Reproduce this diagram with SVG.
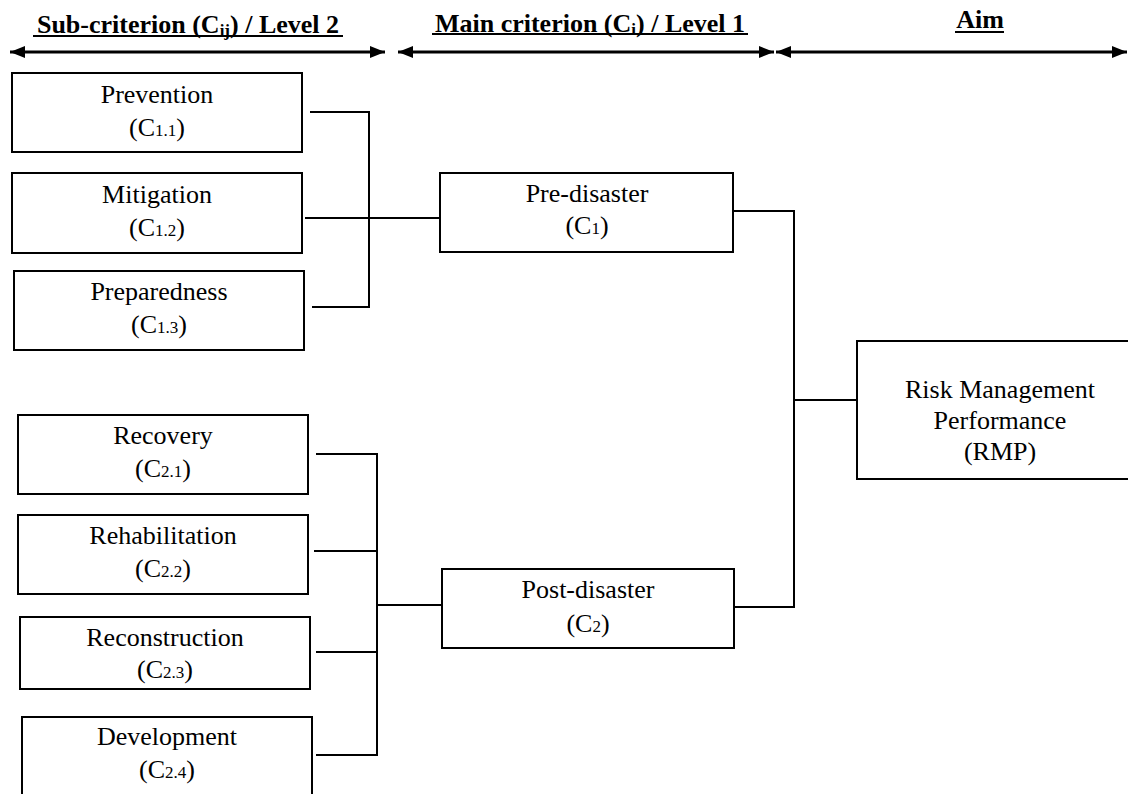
<svg xmlns="http://www.w3.org/2000/svg" width="1128" height="794" viewBox="0 0 1128 794">
<style>
text{fill:#000;}
.t{font-size:26px;text-anchor:middle;}
.h{font-size:26px;font-weight:bold;text-anchor:middle;}
.box{fill:#fff;stroke:#000;stroke-width:2;}
.c{fill:none;stroke:#000;stroke-width:2;}
.ax{stroke:#000;stroke-width:3;fill:none;}
.ul{fill:#000;}
</style>
<defs>
<marker id="ah" viewBox="0 0 15 12" refX="15" refY="6" markerWidth="15" markerHeight="12" markerUnits="userSpaceOnUse" orient="auto-start-reverse">
<path d="M0,0 L15,6 L0,12 Z" fill="#000"/>
</marker>
</defs>
<rect width="1128" height="794" fill="#fff"/>
<g font-family="Liberation Serif, DejaVu Serif, serif">
<g id="headers">
<text class="h" x="188" y="33">Sub-criterion (C<tspan font-size="17" dy="3">ij</tspan><tspan dy="-3">) / Level 2</tspan></text>
<rect class="ul" x="33" y="35" width="310" height="2"/>
<text class="h" x="590" y="32">Main criterion (C<tspan font-size="17" dy="3">i</tspan><tspan dy="-3">) / Level 1</tspan></text>
<rect class="ul" x="432" y="33" width="316" height="2"/>
<text class="h" x="980" y="28">Aim</text>
<rect class="ul" x="955" y="31" width="49" height="2"/>
<line class="ax" x1="10" y1="52" x2="385" y2="52" marker-start="url(#ah)" marker-end="url(#ah)"/>
<line class="ax" x1="398" y1="52" x2="774" y2="52" marker-start="url(#ah)" marker-end="url(#ah)"/>
<line class="ax" x1="776" y1="52" x2="1127" y2="52" marker-start="url(#ah)" marker-end="url(#ah)"/>
</g>

<g id="connectors">
<path class="c" d="M310,112 H369 V307 H312"/>
<path class="c" d="M305,218 H440"/>
<path class="c" d="M733,211 H794 V607 H734"/>
<path class="c" d="M794,400 H857"/>
<path class="c" d="M316,454 H377 V755 H316"/>
<path class="c" d="M314,551 H377"/>
<path class="c" d="M316,652 H377"/>
<path class="c" d="M377,605 H442"/>
</g>

<g id="n-prevention">
<rect class="box" x="12" y="73" width="290" height="79"/>
<text class="t" x="157" y="103">Prevention</text>
<text class="t" x="157" y="136">(C<tspan font-size="17">1.1</tspan>)</text>
</g>
<g id="n-mitigation">
<rect class="box" x="12" y="173" width="290" height="80"/>
<text class="t" x="157" y="203">Mitigation</text>
<text class="t" x="157" y="236">(C<tspan font-size="17">1.2</tspan>)</text>
</g>
<g id="n-preparedness">
<rect class="box" x="14" y="271" width="290" height="79"/>
<text class="t" x="159" y="300">Preparedness</text>
<text class="t" x="159" y="333">(C<tspan font-size="17">1.3</tspan>)</text>
</g>
<g id="n-recovery">
<rect class="box" x="18" y="415" width="290" height="79"/>
<text class="t" x="163" y="444">Recovery</text>
<text class="t" x="163" y="477">(C<tspan font-size="17">2.1</tspan>)</text>
</g>
<g id="n-rehabilitation">
<rect class="box" x="18" y="515" width="290" height="79"/>
<text class="t" x="163" y="544">Rehabilitation</text>
<text class="t" x="163" y="577">(C<tspan font-size="17">2.2</tspan>)</text>
</g>
<g id="n-reconstruction">
<rect class="box" x="20" y="617" width="290" height="72"/>
<text class="t" x="165" y="646">Reconstruction</text>
<text class="t" x="165" y="678">(C<tspan font-size="17">2.3</tspan>)</text>
</g>
<g id="n-development">
<rect class="box" x="22" y="717" width="290" height="90"/>
<text class="t" x="167" y="745">Development</text>
<text class="t" x="167" y="778">(C<tspan font-size="17">2.4</tspan>)</text>
</g>
<g id="n-predisaster">
<rect class="box" x="440" y="173" width="293" height="79"/>
<text class="t" x="587" y="202">Pre-disaster</text>
<text class="t" x="587" y="234">(C<tspan font-size="17">1</tspan>)</text>
</g>
<g id="n-postdisaster">
<rect class="box" x="442" y="569" width="292" height="79"/>
<text class="t" x="588" y="598">Post-disaster</text>
<text class="t" x="588" y="632">(C<tspan font-size="17">2</tspan>)</text>
</g>
<g id="n-rmp">
<rect class="box" x="857" y="341" width="280" height="138"/>
<text class="t" x="1000" y="398">Risk Management</text>
<text class="t" x="1000" y="429">Performance</text>
<text class="t" x="1000" y="460">(RMP)</text>
</g>
</g>
</svg>
